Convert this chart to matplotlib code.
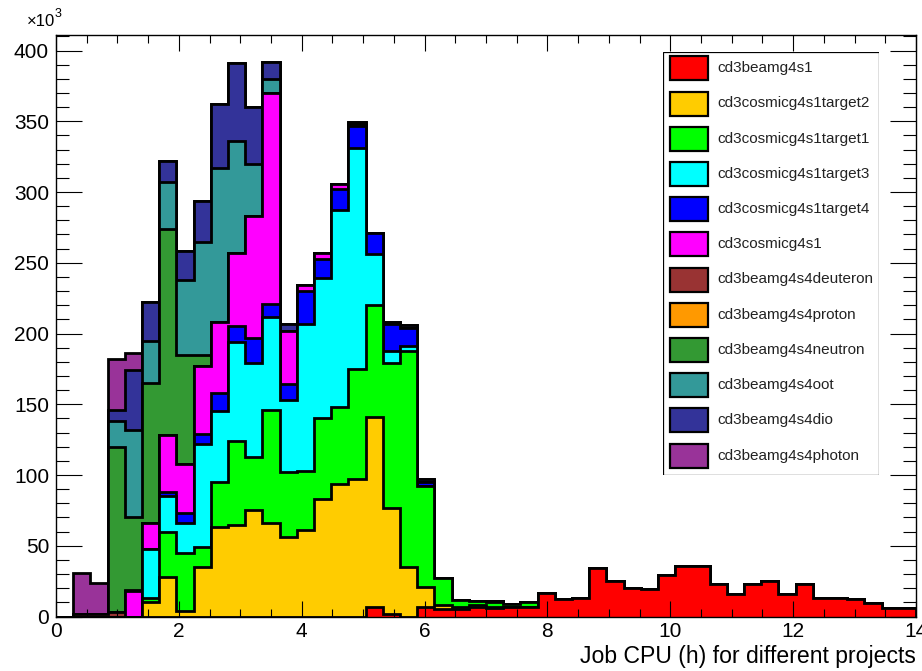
#!/usr/bin/env python3
# stacked job-CPU histogram per project, ROOT THStack look.
# values are job counts in thousands (axis carries the x10^3).

import matplotlib
matplotlib.use("Agg")
import matplotlib.pyplot as plt
import numpy as np
from matplotlib.patches import Rectangle
from matplotlib.ticker import MultipleLocator

plt.rcParams["font.family"] = ["Liberation Sans", "DejaVu Sans"]

EDGES = np.linspace(0, 14, 51)  # 50 bins of 0.28 h

NAMES = ["cd3beamg4s1", "cd3cosmicg4s1target2", "cd3cosmicg4s1target1",
         "cd3cosmicg4s1target3", "cd3cosmicg4s1target4", "cd3cosmicg4s1",
         "cd3beamg4s4deuteron", "cd3beamg4s4proton", "cd3beamg4s4neutron",
         "cd3beamg4s4oot", "cd3beamg4s4dio", "cd3beamg4s4photon"]
COLORS = ["#ff0000", "#ffcc00", "#00ff00", "#00ffff", "#0000ff", "#ff00ff",
          "#993333", "#ff9900", "#339933", "#339999", "#333399", "#993399"]

# bin contents, bins 0..49
beam_s1 = [0, 0, 0, 0, 0, 0, 0, 0, 0, 0,
           0, 0, 0, 0, 0, 0, 0, 0, 7, 2,
           0, 7, 5, 5, 7, 6, 7, 7, 16.4, 12.1,
           13.3, 34.1, 25.1, 19.9, 19.4, 29.3, 35.9, 35.9, 22.7, 15.9,
           22.7, 25.1, 15.9, 22.7, 13.3, 13.3, 12.4, 9.5, 5.8, 5.8]
target2 = [0, 0, 0, 0, 0, 10.5, 28, 4, 35, 63,
           65, 75, 66, 56, 61, 83, 94, 97, 134, 75,
           35, 14, 3, 2, 1, 1, 0, 0, 0, 0] + [0] * 20
target1 = [0, 0, 0, 0, 0, 2.5, 32, 41, 14, 32,
           59, 38, 80, 46, 42, 57, 54, 78, 79, 102,
           153, 71, 19, 5, 3, 3, 2, 3, 0, 0] + [0] * 20
target3 = [0, 0, 0, 0, 0, 34.5, 25, 21, 73, 50,
           70, 66, 66, 51, 104, 99, 139.5, 156, 36, 9,
           3, 0, 0, 0, 0, 0, 0, 0, 0, 0] + [0] * 20
target4 = [0, 0, 0, 0, 0, 0, 3, 7, 7, 13,
           11, 18, 9, 11, 23, 14, 14.5, 16, 15, 19,
           13, 3, 0, 0, 0, 1, 0, 0, 0, 0] + [0] * 20
cosmic_s1 = [0, 0, 0, 0, 18, 18.5, 40, 35, 48, 50,
             52, 86, 149, 38, 4, 4, 4, 1, 0, 0] + [0] * 30
deuteron = [0, 1.5, 1.5, 3, 0] + [0] * 45
proton = [0, 0, 0, 0, 1] + [0] * 45
neutron = [0, 0, 0, 117, 51, 99, 146, 77, 8, 0] + [0] * 40
oot = [0, 0, 0, 18, 62, 30, 33, 53, 80, 109,
       79, 37, 10, 0, 0, 0, 0, 0, 0, 0] + [0] * 30
dio = [0, 0, 0, 8, 42, 27, 15, 20, 29, 45,
       55, 40, 12, 5, 0, 0, 0, 1.5, 0, 1,
       2, 2, 0, 0, 0, 0, 0, 0, 0, 0] + [0] * 20
photon = [0, 29.5, 22, 36, 12] + [0] * 45

SERIES = [beam_s1, target2, target1, target3, target4, cosmic_s1,
          deuteron, proton, neutron, oot, dio, photon]

W, H = 922, 671
fig = plt.figure(figsize=(W / 100, H / 100), dpi=100)
ax = fig.add_axes([56 / W, 1 - 616.5 / H, 860 / W, 581.5 / H])

cum = np.cumsum(np.array(SERIES, dtype=float), axis=0)
# draw top of the stack first, each layer from zero like THStack does
for i in range(len(SERIES) - 1, -1, -1):
    ax.stairs(cum[i], EDGES, baseline=0, fill=True, facecolor=COLORS[i],
              edgecolor="black", linewidth=2.0, joinstyle="miter")

ax.set_xlim(0, 14)
ax.set_ylim(0, 411)
ax.xaxis.set_major_locator(MultipleLocator(2))
ax.xaxis.set_minor_locator(MultipleLocator(0.5))
ax.yaxis.set_major_locator(MultipleLocator(50))
ax.yaxis.set_minor_locator(MultipleLocator(10))
ax.tick_params(which="both", direction="in", top=True, right=True,
               width=0.8, labelsize=15, colors="black")
ax.tick_params(axis="x", which="major", length=11.5, pad=4)
ax.tick_params(axis="x", which="minor", length=5.8)
ax.tick_params(axis="y", which="major", length=19, pad=5)
ax.tick_params(axis="y", which="minor", length=9.5)
for sp in ax.spines.values():
    sp.set_linewidth(1.0)

ax.set_xlabel("Job CPU (h) for different projects", fontsize=16.6,
              loc="right", labelpad=3)
fig.text(27 / W, 1 - 22 / H, "\u00d710", fontsize=12, va="center")
fig.text(55 / W, 1 - 14 / H, "3", fontsize=9, va="center")

# legend box, pixel coordinates of the figure
lax = fig.add_axes([663 / W, 1 - 475 / H, 216 / W, 423 / H])
lax.set_xlim(663, 879)
lax.set_ylim(475, 52)
lax.axis("off")
lax.add_patch(Rectangle((663, 52), 216, 423, facecolor="white",
                        edgecolor="black", linewidth=0.9))
for i, (name, col) in enumerate(zip(NAMES, COLORS)):
    cy = 68.3 + 35.2 * i
    lax.add_patch(Rectangle((670, cy - 12), 38, 24, facecolor=col,
                            edgecolor="black", linewidth=1.6))
    lax.text(717, cy, name, fontsize=11, va="center", ha="left",
             color="#222222")

fig.savefig("out.png", dpi=100)
